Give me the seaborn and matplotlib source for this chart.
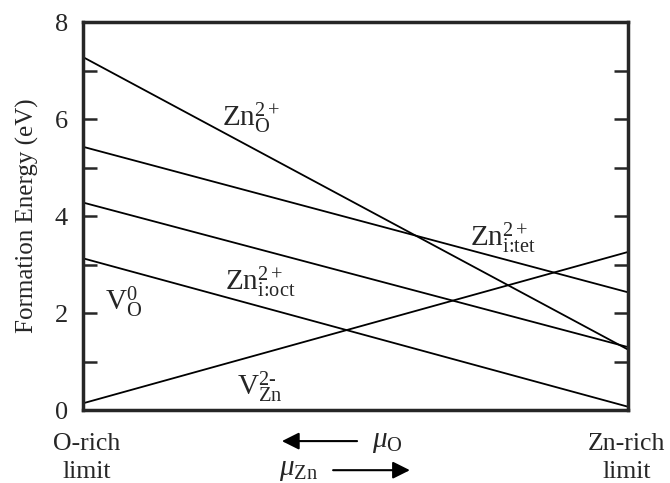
import matplotlib
matplotlib.use("Agg")
import matplotlib.pyplot as plt
import pandas as pd
import seaborn as sns

# chemical potential position: 0 = O-rich limit, 1 = Zn-rich limit
mu_pos = [0.0, 1.0]
zn_o = [7.28, 1.25]
zn_i_tet = [5.43, 2.43]
zn_i_oct = [4.28, 1.30]
v_o = [3.13, 0.07]
v_zn = [0.14, 3.26]

defects = {"Zn_O": zn_o, "Zn_i_tet": zn_i_tet, "Zn_i_oct": zn_i_oct,
           "V_O": v_o, "V_Zn": v_zn}
df = pd.DataFrame([(name, x, e) for name, vals in defects.items()
                   for x, e in zip(mu_pos, vals)],
                  columns=["defect", "mu", "energy"])

sns.set_style("ticks")
plt.rcParams["font.family"] = ["Liberation Serif", "DejaVu Serif"]
plt.rcParams["mathtext.fontset"] = "custom"
plt.rcParams["mathtext.rm"] = "Liberation Serif"
plt.rcParams["mathtext.it"] = "Liberation Serif:italic"

fig = plt.figure(figsize=(6.7, 4.83), dpi=100)
ax = fig.add_axes([0.124, 0.151, 0.813, 0.803])
sns.lineplot(data=df, x="mu", y="energy", hue="defect", legend=False,
             palette=["black"] * len(defects), linewidth=1.3, ax=ax)

ax.set_xlim(0, 1)
ax.set_ylim(0, 8)
ax.set_yticks([0, 2, 4, 6, 8])
ax.set_yticks([1, 3, 5, 7], minor=True)
ax.set_xticks([])
ax.tick_params(axis="y", which="both", direction="in", right=True,
               labelsize=19, width=1.8, pad=11, length=10)
for s in ax.spines.values():
    s.set_linewidth(2.5)
ax.set_xlabel("")
ax.set_ylabel("Formation Energy (eV)", fontsize=18, labelpad=11)

# defect labels
fs = 21
ax.text(0.255, 5.85, r"$\mathrm{Zn}_{\mathrm{O}}^{2+}$", fontsize=fs, ha="left", va="baseline")
ax.text(0.71, 3.37, r"$\mathrm{Zn}_{\text{i:tet}}^{2+}$", fontsize=fs, ha="left", va="baseline")
ax.text(0.26, 2.47, r"$\mathrm{Zn}_{\text{i:oct}}^{2+}$", fontsize=fs, ha="left", va="baseline")
ax.text(0.04, 2.06, r"$\mathrm{V}_{\mathrm{O}}^{0}$", fontsize=fs, ha="left", va="baseline")
ax.text(0.283, 0.31, r"$\mathrm{V}_{\mathrm{Zn}}^{2\text{-}}$", fontsize=fs, ha="left", va="baseline")

# bottom annotations
for x, word in [(0.007, "O-rich"), (0.998, "Zn-rich")]:
    ax.text(x, -0.103, word, transform=ax.transAxes, fontsize=18.5,
            ha="center", va="baseline")
    ax.text(x, -0.176, "limit", transform=ax.transAxes, fontsize=18.5,
            ha="center", va="baseline")

arrow = dict(arrowstyle="-|>", color="black", lw=1.5, mutation_scale=26,
             shrinkA=0, shrinkB=0)
ax.annotate("", xy=(0.365, -0.08), xytext=(0.503, -0.08),
            xycoords="axes fraction", arrowprops=arrow)
ax.text(0.53, -0.082, r"$\mathit{\mu}_{\mathrm{O}}$", transform=ax.transAxes,
        fontsize=21, ha="left", va="center")
ax.text(0.36, -0.155, r"$\mathit{\mu}_{\mathrm{Zn}}$", transform=ax.transAxes,
        fontsize=21, ha="left", va="center")
ax.annotate("", xy=(0.60, -0.155), xytext=(0.459, -0.155),
            xycoords="axes fraction", arrowprops=arrow)

fig.savefig("out.png", dpi=100)
plt.close(fig)
